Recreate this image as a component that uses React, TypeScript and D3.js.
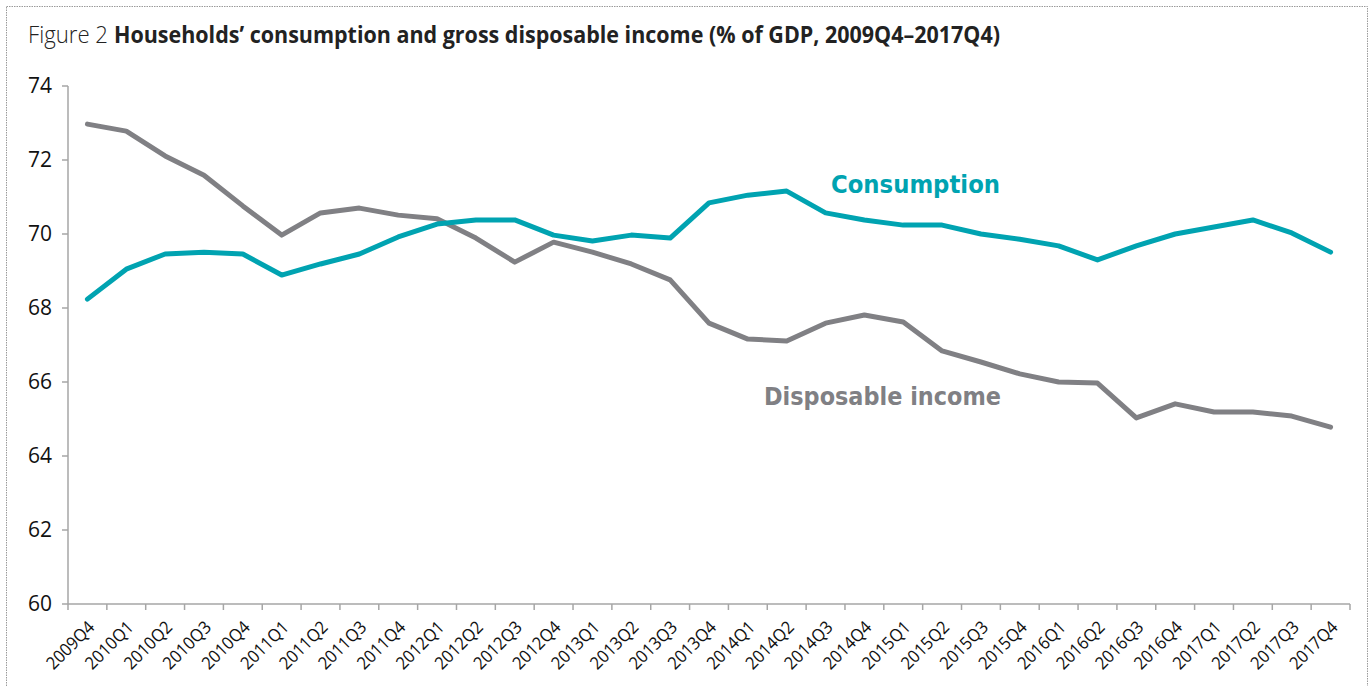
import React from "react";
import * as d3 from "d3";

const quarters = [
  "2009Q4","2010Q1","2010Q2","2010Q3","2010Q4","2011Q1","2011Q2","2011Q3","2011Q4",
  "2012Q1","2012Q2","2012Q3","2012Q4","2013Q1","2013Q2","2013Q3","2013Q4",
  "2014Q1","2014Q2","2014Q3","2014Q4","2015Q1","2015Q2","2015Q3","2015Q4",
  "2016Q1","2016Q2","2016Q3","2016Q4","2017Q1","2017Q2","2017Q3","2017Q4",
];

const consumption = [
  68.24, 69.05, 69.46, 69.51, 69.46, 68.89, 69.19, 69.46, 69.92,
  70.27, 70.38, 70.38, 69.97, 69.81, 69.97, 69.89, 70.84,
  71.05, 71.16, 70.57, 70.38, 70.24, 70.24, 70.0, 69.86,
  69.68, 69.3, 69.68, 70.0, 70.19, 70.38, 70.03, 69.51,
];

const disposableIncome = [
  72.97, 72.78, 72.11, 71.59, 70.76, 69.97, 70.57, 70.70, 70.51,
  70.41, 69.89, 69.24, 69.78, 69.51, 69.19, 68.76, 67.59,
  67.16, 67.11, 67.59, 67.81, 67.62, 66.84, 66.54, 66.22,
  66.0, 65.97, 65.03, 65.41, 65.19, 65.19, 65.08, 64.78,
];

const yTicks = [60, 62, 64, 66, 68, 70, 72, 74];

const W = 1370;
const H = 686;
const M = { left: 68, right: 20, top: 86, bottom: 82 };
const axisColor = "#a6a6a6";
const teal = "#00a3b1";
const gray = "#808084";

export default function App() {
  const x = d3
    .scaleBand<string>()
    .domain(quarters)
    .range([M.left, 1350])
    .paddingInner(0)
    .paddingOuter(0);
  const y = d3.scaleLinear().domain([60, 74]).range([604, 86]);
  const cx = (q: string) => (x(q) as number) + x.bandwidth() / 2;

  const line = d3
    .line<number>()
    .x((_, i) => cx(quarters[i]))
    .y((d) => y(d));

  const font = "'Open Sans', sans-serif";
  const boundaries = quarters.map((q) => x(q) as number).concat([1350]);

  return (
    <svg
      width={W}
      height={H}
      style={{ position: "absolute", left: 0, top: 0, background: "#fff" }}
    >
      <rect
        x={6.5}
        y={6.5}
        width={1361}
        height={700}
        fill="none"
        stroke="#9a9a9a"
        strokeWidth={1}
        strokeDasharray="1.5,1"
      />
      <text x={28} y={43} fontFamily={font} fontSize={24} fontWeight={300} fill="#222" textLength={80} lengthAdjust="spacingAndGlyphs">
        Figure 2
      </text>
      <text x={114} y={43} fontFamily={font} fontSize={24} fontWeight={700} fill="#222" textLength={886} lengthAdjust="spacingAndGlyphs">
        Households’ consumption and gross disposable income (% of GDP, 2009Q4–2017Q4)
      </text>

      {/* y axis */}
      <line x1={M.left} x2={M.left} y1={y(74)} y2={y(60)} stroke={axisColor} strokeWidth={1.5} />
      {yTicks.map((t) => (
        <g key={t}>
          <line x1={M.left - 6} x2={M.left} y1={y(t)} y2={y(t)} stroke={axisColor} strokeWidth={1.5} />
          <text
            x={52}
            y={y(t)}
            dy="0.35em"
            textAnchor="end"
            fontFamily={font}
            fontSize={21}
            fill="#111"
          >
            {t}
          </text>
        </g>
      ))}

      {/* x axis */}
      <line x1={M.left} x2={1350} y1={y(60)} y2={y(60)} stroke={axisColor} strokeWidth={1.5} />
      {boundaries.map((b, i) => (
        <line key={i} x1={b} x2={b} y1={y(60)} y2={y(60) + 6} stroke={axisColor} strokeWidth={1.5} />
      ))}
      {quarters.map((q) => (
        <text
          key={q}
          transform={`translate(${cx(q) + 4},${y(60) + 20}) rotate(-45) scale(0.94,1)`}
          textAnchor="end"
          fontFamily={font}
          fontSize={17.5}
          fill="#111"
          dy="0.35em"
        >
          {q}
        </text>
      ))}

      {/* lines */}
      <path d={line(disposableIncome) || ""} fill="none" stroke={gray} strokeWidth={5} strokeLinejoin="round" strokeLinecap="round" />
      <path d={line(consumption) || ""} fill="none" stroke={teal} strokeWidth={5} strokeLinejoin="round" strokeLinecap="round" />

      <text x={831} y={193} fontFamily="'DejaVu Sans', sans-serif" fontWeight={700} fontSize={25} fill={teal} textLength={169} lengthAdjust="spacingAndGlyphs">
        Consumption
      </text>
      <text x={764} y={405} fontFamily="'DejaVu Sans', sans-serif" fontWeight={700} fontSize={25} fill={gray} textLength={237} lengthAdjust="spacingAndGlyphs">
        Disposable income
      </text>
    </svg>
  );
}
